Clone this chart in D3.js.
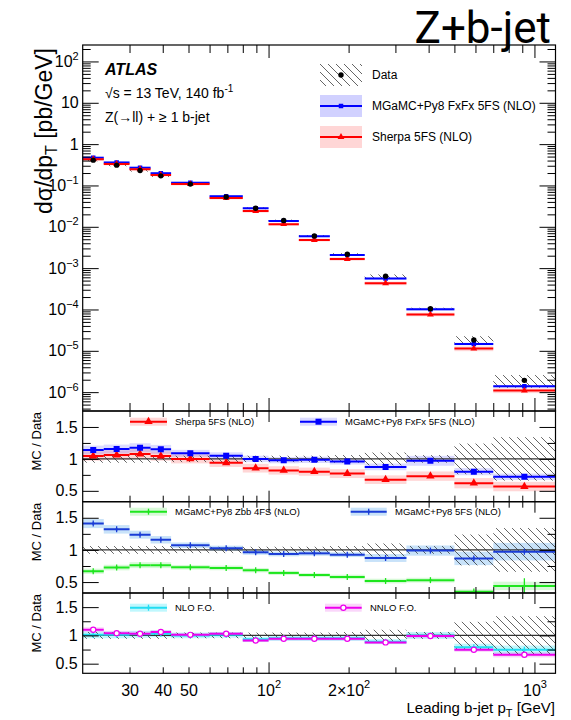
<!DOCTYPE html>
<html>
<head>
<meta charset="utf-8">
<script src="https://cdn.jsdelivr.net/npm/d3@7"></script>
<style>
  body { margin: 0; background: #fff; }
  svg { display: block; }
  text { font-family: "Liberation Sans", Arial, sans-serif; fill: #000; }
</style>
</head>
<body>
<svg id="chart" width="571" height="720"></svg>
<script>
// leading b-jet pT bin edges [GeV]
const binEdges = [20, 24, 30, 36, 43, 60, 80, 100, 130, 170, 230, 330, 500, 700, 1200];

// main panel: dsigma/dpT [pb/GeV]
const dataXsec   = [0.41, 0.31, 0.23, 0.171, 0.108, 0.0526, 0.0281, 0.0142, 0.0060, 0.00217, 6.4e-4, 1.04e-4, 1.82e-5, 1.93e-6];
const dataRelErr = [0.06, 0.06, 0.06, 0.06, 0.05, 0.05, 0.05, 0.05, 0.05, 0.06, 0.10, 0.06, 0.24, 0.34];
const fxfxXsec   = [0.47, 0.36, 0.27, 0.197, 0.117, 0.0552, 0.0281, 0.0139, 0.0059, 0.00208, 5.6e-4, 1.01e-4, 1.46e-5, 1.39e-6];
const sherpaXsec = [0.43, 0.33, 0.248, 0.179, 0.108, 0.0494, 0.0240, 0.0116, 0.0048, 0.00167, 4.3e-4, 7.6e-5, 1.13e-5, 1.09e-6];

// ratio panel 1
const fxfxRatio    = [1.14, 1.155, 1.175, 1.15, 1.087, 1.05, 1.0, 0.98, 0.985, 0.96, 0.875, 0.97, 0.80, 0.72];
const fxfxRelErr   = [0.06, 0.06, 0.06, 0.06, 0.05, 0.05, 0.05, 0.05, 0.05, 0.05, 0.06, 0.08, 0.07, 0.07];
const sherpaRatio  = [1.046, 1.06, 1.077, 1.046, 1.0, 0.94, 0.855, 0.82, 0.80, 0.77, 0.675, 0.73, 0.62, 0.567];
const sherpaRelErr = [0.07, 0.07, 0.07, 0.07, 0.07, 0.07, 0.08, 0.08, 0.08, 0.09, 0.10, 0.10, 0.13, 0.13];

// ratio panel 2
const mg5fsRatio   = [1.41, 1.32, 1.237, 1.158, 1.073, 1.025, 0.963, 0.937, 0.947, 0.926, 0.874, 0.99, 0.868, 0.973];
const mg5fsRelErr  = [0.05, 0.05, 0.05, 0.05, 0.04, 0.04, 0.04, 0.04, 0.04, 0.04, 0.07, 0.08, 0.12, 0.14];
const zbb4fsRatio  = [0.668, 0.726, 0.763, 0.763, 0.73, 0.72, 0.685, 0.642, 0.61, 0.58, 0.516, 0.53, 0.35, 0.44];
const zbb4fsRelErr = [0.06, 0.06, 0.06, 0.06, 0.05, 0.05, 0.05, 0.05, 0.05, 0.06, 0.07, 0.07, 0.10, 0.15];
const zbb4fsStat   = [0.01, 0.01, 0.01, 0.01, 0.01, 0.01, 0.01, 0.01, 0.01, 0.01, 0.01, 0.01, 0.05, 0.12];

// ratio panel 3
const nloRatio    = [1.01, 1.01, 1.02, 1.03, 1.0, 1.01, 0.93, 0.95, 0.95, 0.95, 0.89, 1.0, 0.79, 0.746];
const nloRelErr   = [0.06, 0.06, 0.06, 0.06, 0.05, 0.05, 0.05, 0.05, 0.05, 0.05, 0.05, 0.06, 0.08, 0.10];
const nnloRatio   = [1.10, 1.04, 1.03, 1.06, 1.01, 1.03, 0.91, 0.94, 0.94, 0.94, 0.876, 0.99, 0.746, 0.657];
const nnloRelErr  = [0.04, 0.04, 0.04, 0.03, 0.03, 0.03, 0.03, 0.03, 0.03, 0.03, 0.03, 0.04, 0.05, 0.07];

// ticks
const xMajorTicks = [100, 1000];
const xMinorTicks = [30, 40, 50, 60, 70, 80, 90, 200, 300, 400, 500, 600, 700, 800, 900];
const xLabelTicks = [30, 40, 50, 100, 200, 1000];
const yMainExps   = [2, 1, 0, -1, -2, -3, -4, -5, -6];
const ratioMajor  = [0.5, 1, 1.5];
const ratioMinor  = [0.75, 1.25];

const svg = d3.select("#chart");
const left = 82.7, right = 555.5;
const x = d3.scaleLog().domain([20, 1200]).range([left, right]);

const bins = binEdges.slice(0, -1).map((e, i) => ({ i, lo: e, hi: binEdges[i + 1], c: Math.sqrt(e * binEdges[i + 1]) }));

// hatch pattern for data uncertainty
const defs = svg.append("defs");
defs.append("pattern")
	.attr("id", "hatch")
	.attr("patternUnits", "userSpaceOnUse")
	.attr("width", 8).attr("height", 8)
	.selectAll("line")
	.data([[0, 0, 8, 8], [-4, 4, 4, 12], [4, -4, 12, 4]])
	.join("line")
	.attr("x1", d => d[0]).attr("y1", d => d[1])
	.attr("x2", d => d[2]).attr("y2", d => d[3])
	.attr("stroke", "#222").attr("stroke-width", 0.7);

function clipFor(id, top, bottom) {
	defs.append("clipPath").attr("id", id)
		.append("rect").attr("x", left).attr("y", top).attr("width", right - left).attr("height", bottom - top);
	return "url(#" + id + ")";
}

function marker(g, type, cx, cy, color, size) {
	if (type === "circleOpen") {
		g.append("circle").attr("cx", cx).attr("cy", cy).attr("r", size)
			.attr("fill", "#fff").attr("stroke", color).attr("stroke-width", 1.2);
		return;
	}
	if (type === "tick") {
		g.append("rect").attr("x", cx - 1).attr("y", cy - 1).attr("width", 2).attr("height", 2).attr("fill", color);
		return;
	}
	const sym = { square: d3.symbolSquare, triangle: d3.symbolTriangle, circle: d3.symbolCircle }[type];
	g.append("path")
		.attr("d", d3.symbol().type(sym).size(size * size)())
		.attr("transform", `translate(${cx},${cy})`)
		.attr("fill", color);
}

// band + horizontal line + marker per bin
function drawSeries(g, y, vals, relErr, s) {
	bins.forEach(b => {
		const v = vals[b.i], e = relErr[b.i];
		g.append("rect")
			.attr("x", x(b.lo)).attr("width", x(b.hi) - x(b.lo))
			.attr("y", y(v * (1 + e))).attr("height", y(v * (1 - e)) - y(v * (1 + e)))
			.attr("fill", s.band);
	});
	bins.forEach(b => {
		const v = vals[b.i];
		g.append("line")
			.attr("x1", x(b.lo)).attr("x2", x(b.hi))
			.attr("y1", y(v)).attr("y2", y(v))
			.attr("stroke", s.color).attr("stroke-width", s.width || 2);
		if (s.stat) {
			const st = s.stat[b.i] || 0.012;
			g.append("line")
				.attr("x1", x(b.c)).attr("x2", x(b.c))
				.attr("y1", Math.min(y(v) - 3, y(v + st))).attr("y2", Math.max(y(v) + 3, y(v - st)))
				.attr("stroke", s.color).attr("stroke-width", 1.3);
		}
		marker(g, s.marker, x(b.c), y(v), s.color, s.size);
	});
}

function drawHatch(g, y, center) {
	bins.forEach(b => {
		const c = center ? center[b.i] : 1, e = dataRelErr[b.i];
		g.append("rect")
			.attr("x", x(b.lo)).attr("width", x(b.hi) - x(b.lo))
			.attr("y", y(c * (1 + e))).attr("height", y(c * (1 - e)) - y(c * (1 + e)))
			.attr("fill", "url(#hatch)");
	});
}

function xTicks(top, bottom, majorLen, minorLen) {
	[[xMajorTicks, majorLen], [xMinorTicks, minorLen]].forEach(([vals, len]) => {
		svg.append("g").attr("transform", `translate(0,${bottom})`)
			.call(d3.axisBottom(x).tickValues(vals).tickSize(-len).tickFormat(""))
			.call(a => a.select(".domain").remove());
		svg.append("g").attr("transform", `translate(0,${top})`)
			.call(d3.axisTop(x).tickValues(vals).tickSize(-len).tickFormat(""))
			.call(a => a.select(".domain").remove());
	});
}

function yTicks(y, vals, len) {
	svg.append("g").attr("transform", `translate(${left},0)`)
		.call(d3.axisLeft(y).tickValues(vals).tickSize(-len).tickFormat(""))
		.call(a => a.select(".domain").remove());
	svg.append("g").attr("transform", `translate(${right},0)`)
		.call(d3.axisRight(y).tickValues(vals).tickSize(-len).tickFormat(""))
		.call(a => a.select(".domain").remove());
}

function supText(sel, base, exp, size, sup) {
	sel.text(null);
	sel.append("tspan").text(base);
	if (exp !== null) sel.append("tspan").attr("dy", -size * 0.45).attr("font-size", sup).text(exp);
}

function frame(top, bottom) {
	svg.append("rect").attr("x", left).attr("y", top).attr("width", right - left).attr("height", bottom - top)
		.attr("fill", "none").attr("stroke", "#000").attr("stroke-width", 1.2);
}

function legendEntry(g, x0, x1, yc, h, s, label, tx, fs) {
	g.append("rect").attr("x", x0).attr("y", yc - h / 2).attr("width", x1 - x0).attr("height", h).attr("fill", s.band);
	g.append("line").attr("x1", x0).attr("x2", x1).attr("y1", yc).attr("y2", yc).attr("stroke", s.color).attr("stroke-width", 2);
	if (s.stat) {
		g.append("line").attr("x1", (x0 + x1) / 2).attr("x2", (x0 + x1) / 2).attr("y1", yc - 3).attr("y2", yc + 3)
			.attr("stroke", s.color).attr("stroke-width", 1.3);
	}
	marker(g, s.marker, (x0 + x1) / 2, yc, s.color, s.size);
	g.append("text").attr("x", tx).attr("y", yc + fs * 0.36).attr("font-size", fs).text(label);
}

// ---------- main panel ----------
const mainTop = 45, mainBot = 411;
const yMain = d3.scaleLog().domain([3.5e-7, 250]).range([mainBot, mainTop]);
const gMain = svg.append("g").attr("clip-path", clipFor("clipMain", mainTop, mainBot));

const styleFxfx   = { color: "#0000ff", band: "rgba(90,90,255,0.28)", marker: "square", size: 4.5 };
const styleSherpa = { color: "#ff0000", band: "rgba(255,90,90,0.25)", marker: "triangle", size: 4.5 };

drawHatch(gMain, yMain, dataXsec);
drawSeries(gMain, yMain, fxfxXsec, fxfxRelErr, styleFxfx);
drawSeries(gMain, yMain, sherpaXsec, sherpaRelErr, styleSherpa);
bins.forEach(b => {
	gMain.append("circle").attr("cx", x(b.c)).attr("cy", yMain(dataXsec[b.i])).attr("r", 2.7).attr("fill", "#000");
});

const decades = yMainExps.map(e => Math.pow(10, e));
const minorsMain = [];
yMainExps.concat([-7]).forEach(e => d3.range(2, 10).forEach(k => {
	const v = k * Math.pow(10, e);
	if (v > 3.5e-7 && v < 250) minorsMain.push(v);
}));
yTicks(yMain, decades, 16);
yTicks(yMain, minorsMain, 8);
xTicks(mainTop, mainBot, 13, 8);

svg.append("g").attr("transform", `translate(${left},0)`)
	.call(d3.axisLeft(yMain).tickValues(decades).tickSize(0).tickPadding(4))
	.call(a => a.select(".domain").remove())
	.call(a => a.selectAll("text").attr("font-size", 16).attr("font-family", "Liberation Sans, Arial, sans-serif")
		.each(function (d) {
			const e = Math.round(Math.log10(d));
			if (e === 0) supText(d3.select(this), "1", null, 16, 11);
			else if (e === 1) supText(d3.select(this), "10", null, 16, 11);
			else supText(d3.select(this), "10", e < 0 ? "\u2212" + (-e) : String(e), 16, 11);
		}));
frame(mainTop, mainBot);

// labels in main panel
svg.append("text").attr("x", 105).attr("y", 75).attr("font-size", 16).attr("font-weight", "bold").attr("font-style", "italic").text("ATLAS");
const sq = svg.append("text").attr("x", 105).attr("y", 98).attr("font-size", 14);
sq.append("tspan").text("\u221As = 13 TeV, 140 fb");
sq.append("tspan").attr("dy", -6).attr("font-size", 10).text("-1");
svg.append("text").attr("x", 105).attr("y", 122).attr("font-size", 14).text("Z(\u2192ll) + \u2265 1 b-jet");

const gLeg = svg.append("g");
gLeg.append("rect").attr("x", 320).attr("y", 64).attr("width", 42).attr("height", 22).attr("fill", "url(#hatch)");
gLeg.append("circle").attr("cx", 341).attr("cy", 75).attr("r", 2.7).attr("fill", "#000");
gLeg.append("text").attr("x", 372).attr("y", 79).attr("font-size", 12).text("Data");
legendEntry(gLeg, 320, 362, 106, 22, styleFxfx, "MGaMC+Py8 FxFx 5FS (NLO)", 372, 12);
legendEntry(gLeg, 320, 362, 137, 22, styleSherpa, "Sherpa 5FS (NLO)", 372, 12);

svg.append("text")
	.attr("transform", "translate(52,48) rotate(-90)")
	.attr("text-anchor", "end").attr("font-size", 23)
	.call(t => {
		t.append("tspan").text("d\u03C3/dp");
		t.append("tspan").attr("dy", 5).attr("font-size", 16).text("T");
		t.append("tspan").attr("dy", -5).text(" [pb/GeV]");
	});

svg.append("text").attr("x", 551).attr("y", 43).attr("text-anchor", "end")
	.attr("font-size", 44).style("font-family", "Roboto, sans-serif").text("Z+b-jet");

// ---------- ratio panels ----------
const ratioPanels = [
	{
		id: "r1", top: 411, bottom: 501.7,
		series: [
			[sherpaRatio, sherpaRelErr, { color: "#ff0000", band: "rgba(255,90,90,0.25)", marker: "triangle", size: 5.5 }],
			[fxfxRatio, fxfxRelErr, { color: "#0000ff", band: "rgba(90,90,255,0.22)", marker: "square", size: 6 }]
		],
		legend: [
			[130, 167, "Sherpa 5FS (NLO)", 175, 0],
			[300, 337, "MGaMC+Py8 FxFx 5FS (NLO)", 345, 1]
		],
		legendY: 421.7
	},
	{
		id: "r2", top: 501.7, bottom: 593,
		series: [
			[zbb4fsRatio, zbb4fsRelErr, { color: "#1ee61e", band: "rgba(110,235,110,0.28)", marker: "tick", size: 2, stat: zbb4fsStat }],
			[mg5fsRatio, mg5fsRelErr, { color: "#1a3cd6", band: "rgba(110,180,240,0.38)", marker: "tick", size: 2, stat: [] }]
		],
		legend: [
			[130, 167, "MGaMC+Py8 Zbb 4FS (NLO)", 175, 0],
			[350.7, 386.7, "MGaMC+Py8 5FS (NLO)", 395, 1]
		],
		legendY: 511.7
	},
	{
		id: "r3", top: 593, bottom: 673.3,
		series: [
			[nloRatio, nloRelErr, { color: "#22ddf2", band: "rgba(60,230,250,0.32)", marker: "tick", size: 2, stat: [] }],
			[nnloRatio, nnloRelErr, { color: "#ee00ee", band: "rgba(235,90,235,0.25)", marker: "circleOpen", size: 2.6 }]
		],
		legend: [
			[130, 167, "NLO F.O.", 175, 0],
			[325, 361.7, "NNLO F.O.", 370, 1]
		],
		legendY: 607.7
	}
];

ratioPanels.forEach(p => {
	const y = d3.scaleLinear().domain([0.33, 1.75]).range([p.bottom, p.top]);
	const g = svg.append("g").attr("clip-path", clipFor("clip" + p.id, p.top, p.bottom));
	p.series.forEach(s => {
		bins.forEach(b => {
			const v = s[0][b.i], e = s[1][b.i];
			g.append("rect")
				.attr("x", x(b.lo)).attr("width", x(b.hi) - x(b.lo))
				.attr("y", y(v * (1 + e))).attr("height", y(v * (1 - e)) - y(v * (1 + e)))
				.attr("fill", s[2].band);
		});
	});
	drawHatch(g, y, null);
	g.append("line").attr("x1", left).attr("x2", right).attr("y1", y(1)).attr("y2", y(1))
		.attr("stroke", "#333").attr("stroke-width", 1.2);
	p.series.forEach(s => drawSeries(g, y, s[0], s[1].map(() => 0), s[2]));

	yTicks(y, ratioMajor, 16);
	yTicks(y, ratioMinor, 8);
	xTicks(p.top, p.bottom, 11, 6);

	svg.append("g").attr("transform", `translate(${left},0)`)
		.call(d3.axisLeft(y).tickValues(ratioMajor).tickSize(0).tickPadding(5).tickFormat(d3.format("")))
		.call(a => a.select(".domain").remove())
		.call(a => a.selectAll("text").attr("font-size", 16).attr("font-family", "Liberation Sans, Arial, sans-serif"));

	svg.append("text")
		.attr("transform", `translate(41,${p.top + 1}) rotate(-90)`)
		.attr("text-anchor", "end").attr("font-size", 13).text("MC / Data");

	p.legend.forEach(l => {
		legendEntry(svg, l[0], l[1], p.legendY, 8, p.series[l[4]][2], l[2], l[3], 9.5);
	});
	frame(p.top, p.bottom);
});

// x axis labels
svg.append("g").attr("transform", "translate(0,673.3)")
	.call(d3.axisBottom(x).tickValues(xLabelTicks).tickSize(0).tickPadding(11))
	.call(a => a.select(".domain").remove())
	.call(a => a.selectAll("text").attr("font-size", 16).attr("font-family", "Liberation Sans, Arial, sans-serif")
		.each(function (d) {
			const t = d3.select(this);
			if (d === 100) supText(t, "10", "2", 16, 11);
			else if (d === 200) supText(t, "2\u00D710", "2", 16, 11);
			else if (d === 1000) supText(t, "10", "3", 16, 11);
			else t.text(d);
		}));

svg.append("text").attr("x", 555).attr("y", 713).attr("text-anchor", "end").attr("font-size", 15)
	.call(t => {
		t.append("tspan").text("Leading b-jet p");
		t.append("tspan").attr("dy", 4).attr("font-size", 11).text("T");
		t.append("tspan").attr("dy", -4).text(" [GeV]");
	});
</script>
</body>
</html>
